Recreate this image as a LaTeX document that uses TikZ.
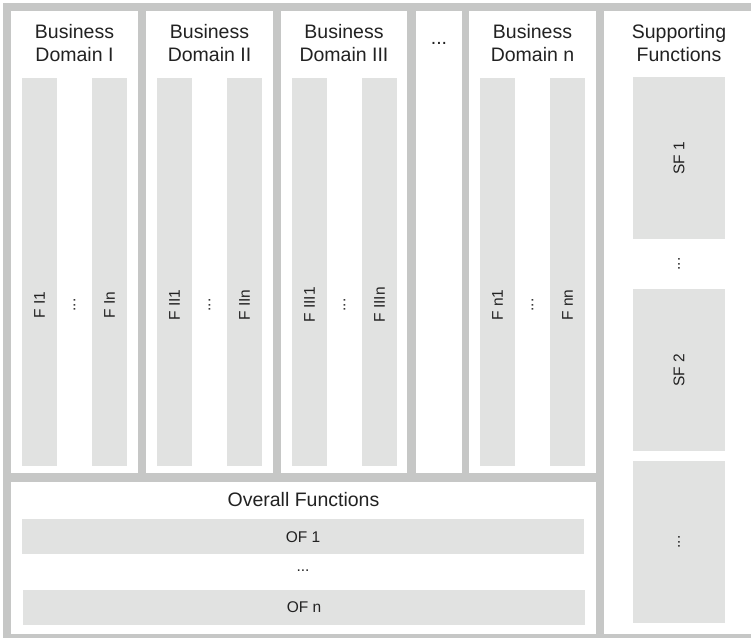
\documentclass[tikz,border=0pt]{standalone}
\usepackage{fontspec}
\setmainfont{Liberation Sans}
\definecolor{framegray}{HTML}{C6C7C6}
\definecolor{bargray}{HTML}{E1E2E1}
\definecolor{ink}{HTML}{222222}
\begin{document}
\begin{tikzpicture}[x=1pt,y=-1pt,
  title/.style={font=\fontsize{19.5}{23.3}\selectfont, align=center, text=ink, inner sep=0pt},
  lab/.style={font=\fontsize{15.5}{18}\selectfont, text=ink, inner sep=0pt},
  vlab/.style={lab, rotate=90},
  barbox/.style={fill=bargray},
  panelbox/.style={fill=white}]
\useasboundingbox (0,0) rectangle (751,638);
\fill[framegray] (3,3) rectangle (751,638);
% panels
\fill[panelbox] (11,11) rectangle (138,473);
\fill[panelbox] (146,11) rectangle (273,473);
\fill[panelbox] (281,11) rectangle (407,473);
\fill[panelbox] (416,11) rectangle (462,473);
\fill[panelbox] (469,11) rectangle (596,473);
\fill[panelbox] (604,11) rectangle (751,634);
\fill[panelbox] (11,482) rectangle (596,634);
% domain bars
\foreach \a/\b in {22/57,92/127,157/192,227/262,292/327,362/397,480/515,550/585}
  \fill[barbox] (\a,78) rectangle (\b,466);
% titles
\node[title] (d1) at (74.5,43) {Business\\Domain I};
\node[title] (d2) at (209.5,43) {Business\\Domain II};
\node[title] (d3) at (344,43) {Business\\Domain III};
\node[title, anchor=base] (ddots) at (439,44) {...};
\node[title] (dn) at (532.5,43) {Business\\Domain n};
\node[title] (sf) at (679,43) {Supporting\\Functions};
% domain labels
\node[vlab] (fi1) at (39.5,305) {F I1};
\node[vlab] (fidots) at (74.5,305) {...};
\node[vlab] (fin) at (109.5,305) {F In};
\node[vlab] (fii1) at (174.5,305) {F II1};
\node[vlab] (fiidots) at (209.5,305) {...};
\node[vlab] (fiin) at (244.5,305) {F IIn};
\node[vlab] (fiii1) at (309.5,305) {F III1};
\node[vlab] (fiiidots) at (344.5,305) {...};
\node[vlab] (fiiin) at (379.5,305) {F IIIn};
\node[vlab] (fn1) at (497.5,305) {F n1};
\node[vlab] (fndots) at (532.5,305) {...};
\node[vlab] (fnn) at (567.5,305) {F nn};
% supporting functions
\fill[barbox] (633,77) rectangle (725,239);
\fill[barbox] (633,289) rectangle (725,451);
\fill[barbox] (633,461) rectangle (725,623);
\node[vlab] (sf1) at (679,158) {SF 1};
\node[vlab] (sfdots) at (679,264) {...};
\node[vlab] (sf2) at (679,370) {SF 2};
\node[vlab] (sfdots2) at (679,542) {...};
% overall functions
\node[title] (of) at (303.5,500) {Overall Functions};
\fill[barbox] (22,519) rectangle (584,554);
\fill[barbox] (23,590) rectangle (585,625);
\node[lab] (of1) at (303,537) {OF 1};
\node[lab] (ofdots) at (303,571) {...};
\node[lab] (ofn) at (304,607.5) {OF n};
\end{tikzpicture}
\end{document}
